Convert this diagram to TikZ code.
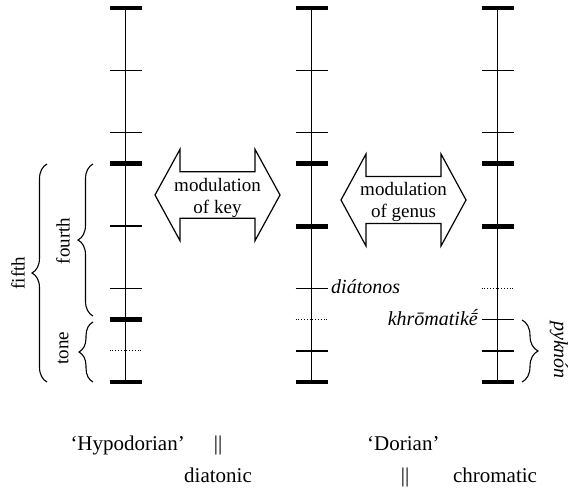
\documentclass[tikz,border=0pt]{standalone}
\usepackage{fontspec}
\setmainfont{Liberation Serif}
\usetikzlibrary{decorations.pathreplacing}
\begin{document}
\begin{tikzpicture}[x=1pt,y=-1pt,
  stem/.style={line width=1.4pt},
  thicktick/.style={line width=4.8pt},
  thintick/.style={line width=1.4pt},
  dottick/.style={line width=1pt,dash pattern=on 1pt off 1.8pt},
  arrowshape/.style={line width=1.2pt,line join=miter},
  lbl/.style={font=\fontsize{19}{21.5}\selectfont,inner sep=0pt,align=center},
  ital/.style={font=\fontsize{20}{22}\selectfont\itshape,inner sep=0pt},
  bottom/.style={font=\fontsize{21}{24}\selectfont,inner sep=0pt},
  bracestyle/.style={line width=1.1pt,decorate,decoration={brace,amplitude=#1}},
]
\useasboundingbox (0,0) rectangle (569,492);

% columns: x / thick ticks / thin ticks / dotted tick
\foreach \cx/\nm/\thk/\thn/\dt in {125.5/L/{0,5,10,12}/{2,4,7,9}/11,
                                   311.5/M/{0,5,7,12}/{2,4,9,11}/10,
                                   497.5/R/{0,5,7,12}/{2,4,10,11}/9}{
  \coordinate (\nm top) at (\cx,8);
  \coordinate (\nm bot) at (\cx,382);
  \draw[stem] (\nm top) -- (\nm bot);
  \foreach \k in \thk {\draw[thicktick] ({\cx-16},{8+31.17*\k}) -- ({\cx+16},{8+31.17*\k});}
  \foreach \k in \thn {\draw[thintick] ({\cx-16},{8+31.17*\k}) -- ({\cx+16},{8+31.17*\k});}
  \draw[dottick] ({\cx-16},{8+31.17*\dt}) -- ({\cx+16},{8+31.17*\dt});
}

% double arrows
\draw[arrowshape] (155,195) -- (180,149.3) -- (180,171.8) -- (255,171.8) -- (255,149.3)
  -- (280,195) -- (255,240.7) -- (255,218.2) -- (180,218.2) -- (180,240.7) -- cycle;
\node[lbl] (key) at (217.5,198) {modulation\\of key};

\draw[arrowshape] (341,200) -- (366,154) -- (366,176.5) -- (441,176.5) -- (441,154)
  -- (466,200) -- (441,246) -- (441,223.5) -- (366,223.5) -- (366,246) -- cycle;
\node[lbl] (genus) at (403.5,202) {modulation\\of genus};

% braces
\draw[bracestyle=15] (93,316) -- (93,164);
\draw[bracestyle=14] (93,382) -- (93,322);
\draw[bracestyle=15] (47,382) -- (47,164);
\draw[bracestyle=16] (522,320) -- (522,382);

\node[lbl,rotate=90] (fifth) at (18,273) {fifth};
\node[lbl,rotate=90] (fourth) at (63,241) {fourth};
\node[lbl,rotate=90] (tone) at (63,348) {tone};
\node[ital,rotate=-90] (pyk) at (559,350) {pyknón};
\node[ital,anchor=base west] (dia) at (331,293) {diátonos};
\node[ital,anchor=base east] (khr) at (478,325) {khrōmatikḗ};

% bottom labels
\node[bottom,anchor=base east] (hypo) at (185,450) {‘Hypodorian’};
\node[bottom,anchor=base] (bar1) at (218,450) {||};
\node[bottom,anchor=base west] (dor) at (367,450) {‘Dorian’};
\node[bottom,anchor=base] (diat) at (218,482) {diatonic};
\node[bottom,anchor=base] (bar2) at (405,482) {||};
\node[bottom,anchor=base] (chrom) at (495,482) {chromatic};
\end{tikzpicture}
\end{document}
